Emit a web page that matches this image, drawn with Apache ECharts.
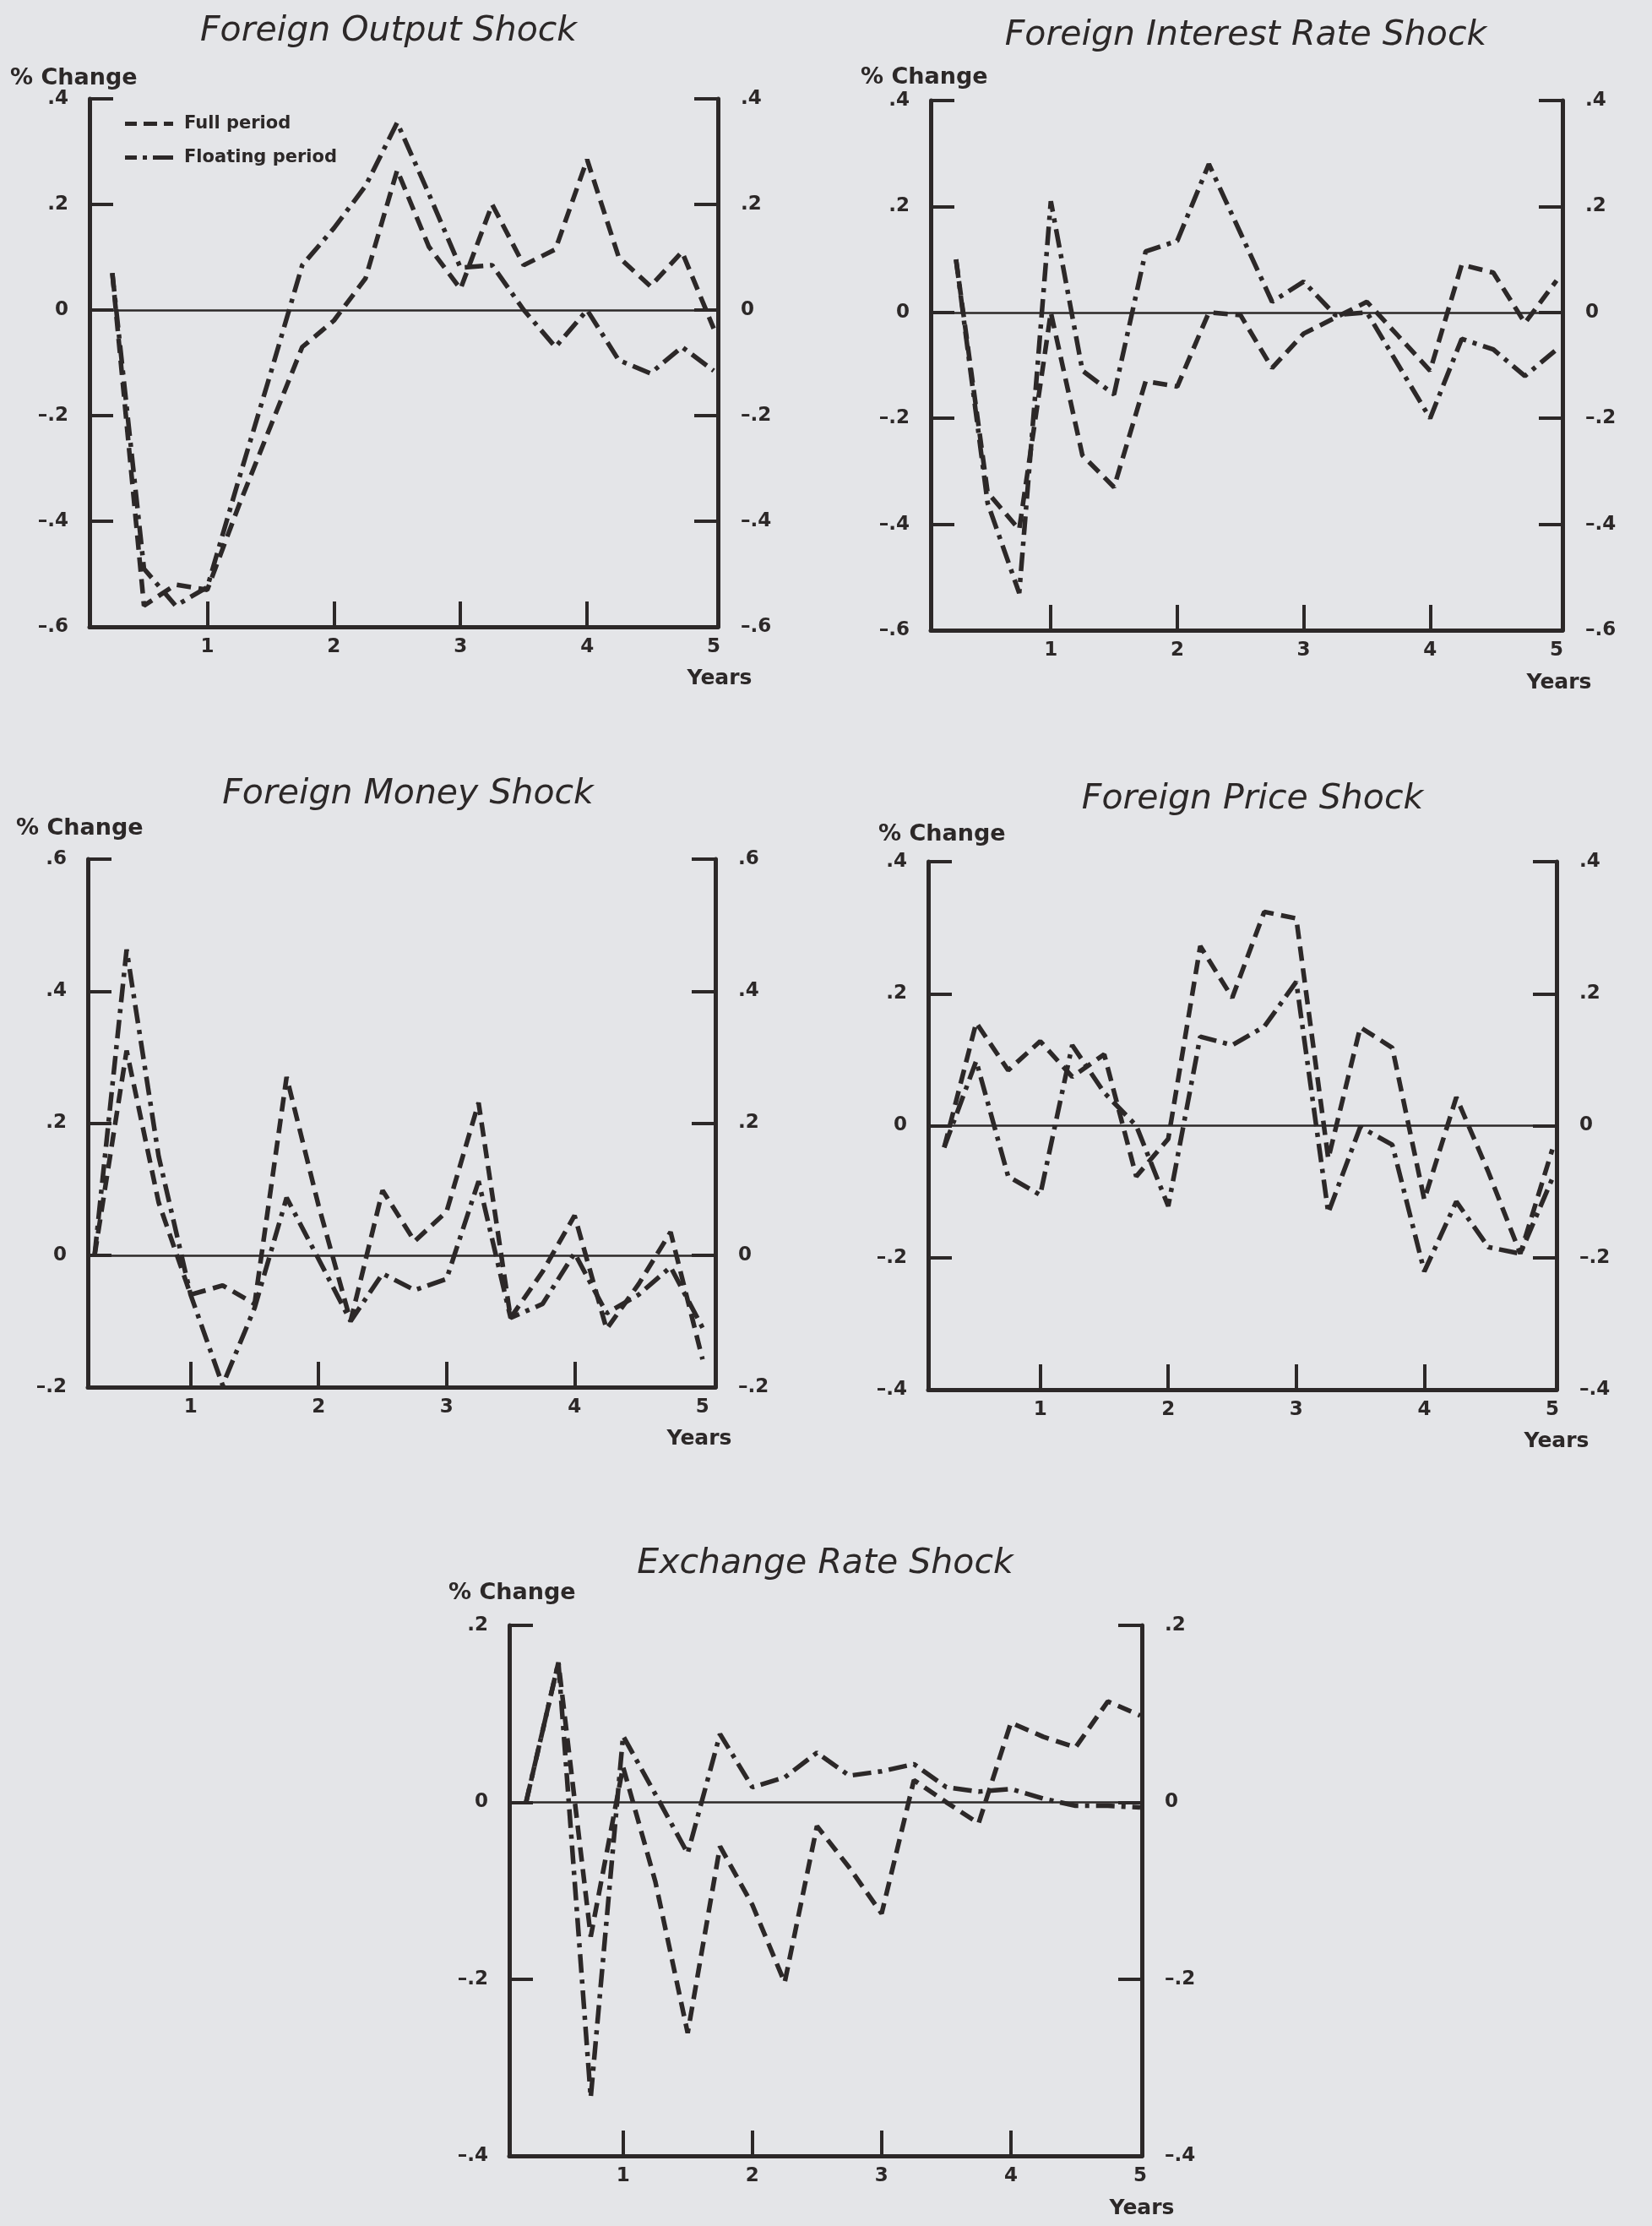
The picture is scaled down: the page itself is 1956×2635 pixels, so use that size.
<!DOCTYPE html>
<html>
<head>
<meta charset="utf-8">
<script src="https://cdn.jsdelivr.net/npm/echarts@6/dist/echarts.min.js"></script>
<style>
  html, body { margin: 0; padding: 0; background: #e4e5e8; }
  #chart { width: 1956px; height: 2635px; }
</style>
</head>
<body>
<div id="chart"></div>
<script>
// Quarterly horizon, in years
const quarters = [0.25, 0.5, 0.75, 1, 1.25, 1.5, 1.75, 2, 2.25, 2.5, 2.75, 3, 3.25, 3.5, 3.75, 4, 4.25, 4.5, 4.75, 5];
const yearTicks = [1, 2, 3, 4, 5];
const yearLabels = ['1', '2', '3', '4', '5'];

// Responses (% change), full sample vs floating-rate period
const outputFull  = [0.07, -0.56, -0.52, -0.53, -0.37, -0.22, -0.07, -0.02, 0.06, 0.265, 0.12, 0.04, 0.20, 0.085, 0.115, 0.285, 0.10, 0.045, 0.11, -0.035];
const outputFloat = [0.07, -0.49, -0.56, -0.525, -0.32, -0.12, 0.085, 0.155, 0.235, 0.355, 0.22, 0.08, 0.085, 0.0, -0.07, 0.0, -0.095, -0.12, -0.07, -0.115];

const rateFull  = [0.10, -0.34, -0.41, 0.0, -0.27, -0.33, -0.13, -0.14, 0.0, -0.005, -0.105, -0.04, -0.01, 0.02, -0.045, -0.11, 0.09, 0.075, -0.02, 0.06];
const rateFloat = [0.10, -0.36, -0.53, 0.21, -0.11, -0.155, 0.115, 0.135, 0.28, 0.15, 0.02, 0.058, -0.005, 0.0, -0.10, -0.20, -0.05, -0.07, -0.12, -0.07];

const moneyFull  = [0.0, 0.31, 0.08, -0.06, -0.046, -0.074, 0.27, 0.075, -0.10, 0.098, 0.021, 0.066, 0.231, -0.095, -0.025, 0.06, -0.112, -0.044, 0.035, -0.158];
const moneyFloat = [0.0, 0.463, 0.15, -0.06, -0.197, -0.08, 0.087, -0.006, -0.10, -0.028, -0.053, -0.036, 0.112, -0.095, -0.074, 0.003, -0.088, -0.06, -0.018, -0.11];

const priceFull  = [-0.033, 0.156, 0.084, 0.128, 0.074, 0.108, -0.077, -0.02, 0.272, 0.194, 0.324, 0.314, -0.05, 0.149, 0.118, -0.112, 0.043, -0.07, -0.194, -0.036];
const priceFloat = [-0.033, 0.098, -0.077, -0.105, 0.122, 0.05, 0.0, -0.122, 0.135, 0.122, 0.15, 0.218, -0.132, -0.002, -0.029, -0.221, -0.115, -0.184, -0.194, -0.08];

const exchFull  = [0.0, 0.158, -0.152, 0.04, -0.09, -0.261, -0.05, -0.116, -0.204, -0.027, -0.074, -0.126, 0.025, 0.0, -0.024, 0.09, 0.074, 0.062, 0.114, 0.098];
const exchFloat = [0.0, 0.158, -0.334, 0.075, 0.009, -0.058, 0.077, 0.017, 0.028, 0.056, 0.03, 0.035, 0.043, 0.017, 0.012, 0.015, 0.004, -0.004, -0.004, -0.006];

const seriesNames = ['Full period', 'Floating period'];
const panelTitles = ['Foreign Output Shock', 'Foreign Interest Rate Shock', 'Foreign Money Shock', 'Foreign Price Shock', 'Exchange Rate Shock'];
const panelData = [
  [outputFull, outputFloat],
  [rateFull, rateFloat],
  [moneyFull, moneyFloat],
  [priceFull, priceFloat],
  [exchFull, exchFloat]
];
const yRanges = [[-0.6, 0.4], [-0.6, 0.4], [-0.2, 0.6], [-0.4, 0.4], [-0.4, 0.2]];
const yLabel = '% Change';
const xLabel = 'Years';

// ---- layout ----
const INK = '#2c2828';
const LABEL_FONT = '"DejaVu Sans", sans-serif';
const frames = [
  { left: 106,  top: 117,  width: 744, height: 625, xmin: 0.07,  xmax: 5.033, title: [460, 37],   change: [12, 93],    years: [852, 803] },
  { left: 1102, top: 119,  width: 748, height: 627, xmin: 0.05,  xmax: 5.047, title: [1475, 42],  change: [1019, 92],  years: [1846, 808] },
  { left: 104,  top: 1017, width: 743, height: 625, xmin: 0.197, xmax: 5.1,   title: [483, 940],  change: [19, 981],   years: [828, 1703] },
  { left: 1099, top: 1020, width: 744, height: 625, xmin: 0.125, xmax: 5.033, title: [1483, 946], change: [1040, 988], years: [1843, 1706] },
  { left: 603,  top: 1924, width: 749, height: 628, xmin: 0.12,  xmax: 5.013, title: [977, 1851], change: [531, 1886], years: [1352, 2614] }
];
const dashFull = [17, 9];
const dashFloat = [22, 8, 5, 8];

function fmtY(v) {
  if (Math.abs(v) < 1e-9) return '0';
  const s = Math.abs(v).toFixed(1).replace(/^0/, '');
  return (v < 0 ? '\u2013' : '') + s;
}

const labelStyle = { color: INK, fontFamily: LABEL_FONT, fontWeight: 'bold', fontSize: 23 };

const grid = [], xAxis = [], yAxis = [], series = [], graphic = [];

frames.forEach((f, i) => {
  grid.push({ left: f.left, top: f.top, width: f.width, height: f.height, containLabel: false });

  xAxis.push({
    type: 'value', gridIndex: i, min: f.xmin, max: f.xmax,
    axisLine: { show: true, onZero: false, lineStyle: { color: INK, width: 5 } },
    axisTick: { show: true, inside: true, length: 30, customValues: yearTicks.slice(0, 4), lineStyle: { color: INK, width: 4 } },
    axisLabel: { customValues: yearTicks, margin: 13, formatter: v => yearLabels[yearTicks.indexOf(Math.round(v))] || '', ...labelStyle },
    splitLine: { show: false }
  });

  const [ymin, ymax] = yRanges[i];
  ['left', 'right'].forEach(pos => {
    yAxis.push({
      type: 'value', gridIndex: i, position: pos, min: ymin, max: ymax, interval: 0.2,
      axisLine: { show: true, onZero: false, lineStyle: { color: INK, width: 5 } },
      axisTick: { show: true, inside: true, length: 28, lineStyle: { color: INK, width: 4 } },
      axisLabel: { formatter: fmtY, margin: pos === 'left' ? 25 : 27, ...labelStyle },
      splitLine: { show: false }
    });
  });

  const [full, floating] = panelData[i];
  series.push({
    type: 'line', name: seriesNames[0], xAxisIndex: i, yAxisIndex: i * 2,
    data: quarters.map((q, k) => [q, full[k]]),
    symbol: 'none', silent: true, z: 3,
    lineStyle: { color: INK, width: 5.5, type: dashFull },
    markLine: {
      silent: true, symbol: ['none', 'none'], label: { show: false },
      lineStyle: { type: 'solid', color: INK, width: 2.5 },
      data: [{ yAxis: 0 }]
    }
  });
  series.push({
    type: 'line', name: seriesNames[1], xAxisIndex: i, yAxisIndex: i * 2,
    data: quarters.map((q, k) => [q, floating[k]]),
    symbol: 'none', silent: true, z: 3,
    lineStyle: { color: INK, width: 5.5, type: dashFloat }
  });

  graphic.push({
    type: 'text', x: f.title[0], y: f.title[1],
    style: { text: panelTitles[i], font: 'italic 41px "DejaVu Sans", sans-serif', fill: INK,
             textAlign: 'center', textVerticalAlign: 'middle', align: 'center', verticalAlign: 'middle' }
  });
  graphic.push({
    type: 'text', x: f.change[0], y: f.change[1],
    style: { text: yLabel, font: 'bold 27px "DejaVu Sans", sans-serif', fill: INK,
             textAlign: 'left', textVerticalAlign: 'middle', align: 'left', verticalAlign: 'middle' }
  });
  graphic.push({
    type: 'text', x: f.years[0], y: f.years[1],
    style: { text: xLabel, font: 'bold 25px "DejaVu Sans", sans-serif', fill: INK,
             textAlign: 'center', textVerticalAlign: 'middle', align: 'center', verticalAlign: 'middle' }
  });
});

const chart = echarts.init(document.getElementById('chart'), null, { renderer: 'canvas' });
chart.setOption({
  backgroundColor: '#e4e5e8',
  animation: false,
  grid, xAxis, yAxis, series, graphic,
  legend: {
    orient: 'vertical', left: 143, top: 131, itemGap: 19,
    itemWidth: 57, itemHeight: 5, selectedMode: false,
    textStyle: { ...labelStyle, fontSize: 21, padding: [0, 0, 0, 8] },
    data: [
      { name: seriesNames[0], icon: 'path://M0 0H14V5H0Z M22 0H38V5H22Z M46 0H57V5H46Z', itemStyle: { color: INK } },
      { name: seriesNames[1], icon: 'path://M0 0H14V5H0Z M21 0H26V5H21Z M33 0H57V5H33Z', itemStyle: { color: INK } }
    ]
  }
});
</script>
</body>
</html>
